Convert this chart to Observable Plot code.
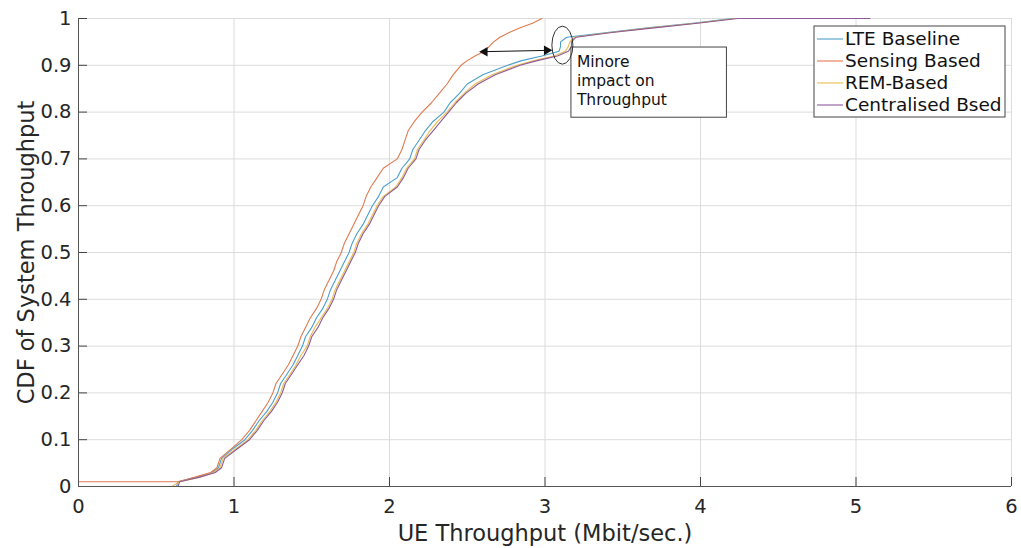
<!DOCTYPE html>
<html><head><meta charset="utf-8">
<script src="https://cdn.jsdelivr.net/npm/d3@7"></script>
<script src="https://cdn.jsdelivr.net/npm/@observablehq/plot@0.6"></script>
<style>html,body{margin:0;padding:0;background:#fff;} #chart{width:1021px;height:548px;}</style>
</head><body><div id="chart"></div>
<script>
const seriesNames = ["LTE Baseline", "Sensing Based", "REM-Based", "Centralised Bsed"];
const seriesColors = ["#4a9fcb", "#e07a4f", "#e9bc4e", "#8e5a9a"];

// Start point of each empirical CDF (x, y) before its first listed level
const seriesStartX = [0, 0, 0, 0];
const seriesStartY = [0, 0.01, 0, 0];

const cdfLevels = [0, 0.01, 0.02, 0.03, 0.04, 0.06, 0.08, 0.10, 0.12, 0.14, 0.16, 0.18, 0.20, 0.22, 0.24, 0.26, 0.28, 0.30,
  0.32, 0.34, 0.36, 0.38, 0.40, 0.42, 0.44, 0.46, 0.48, 0.50, 0.52, 0.54, 0.56, 0.58, 0.60, 0.62, 0.64, 0.66, 0.68, 0.70,
  0.72, 0.74, 0.76, 0.78, 0.80, 0.82, 0.84, 0.86, 0.88, 0.90, 0.91, 0.92, 0.93, 0.94, 0.95, 0.96, 0.97, 0.98, 0.99, 1.00];

const lteBaselineX = [0.63, 0.64, 0.76, 0.86, 0.90, 0.92, 0.99, 1.07, 1.12, 1.16, 1.21, 1.25, 1.28, 1.30, 1.34, 1.38, 1.41, 1.44,
  1.46, 1.50, 1.53, 1.57, 1.60, 1.62, 1.65, 1.68, 1.71, 1.74, 1.76, 1.79, 1.83, 1.86, 1.89, 1.93, 1.96, 2.05, 2.08, 2.13,
  2.15, 2.19, 2.23, 2.28, 2.35, 2.39, 2.45, 2.50, 2.60, 2.76, 2.85, 2.98, 3.09, 3.10, 3.10, 3.14, 3.40, 3.66, 3.95, 4.20];

const sensingBasedX = [null, 0.64, 0.75, 0.85, 0.89, 0.91, 0.98, 1.05, 1.10, 1.14, 1.18, 1.22, 1.25, 1.27, 1.31, 1.35, 1.38, 1.41,
  1.43, 1.46, 1.49, 1.53, 1.56, 1.58, 1.61, 1.64, 1.66, 1.69, 1.71, 1.74, 1.77, 1.80, 1.83, 1.85, 1.88, 1.92, 1.96, 2.05,
  2.08, 2.10, 2.12, 2.16, 2.21, 2.27, 2.32, 2.37, 2.41, 2.46, 2.50, 2.55, 2.61, 2.64, 2.67, 2.71, 2.77, 2.84, 2.92, 2.98];

const remBasedX = [0.60, 0.65, 0.78, 0.87, 0.91, 0.93, 1.01, 1.09, 1.14, 1.18, 1.23, 1.27, 1.30, 1.32, 1.36, 1.40, 1.43, 1.47,
  1.49, 1.52, 1.56, 1.60, 1.63, 1.65, 1.68, 1.71, 1.74, 1.77, 1.79, 1.82, 1.86, 1.89, 1.92, 1.96, 2.04, 2.08, 2.11, 2.16,
  2.18, 2.22, 2.26, 2.31, 2.37, 2.42, 2.48, 2.55, 2.66, 2.82, 2.93, 3.06, 3.13, 3.15, 3.16, 3.19, 3.42, 3.68, 3.97, 4.22];

const centralisedX = [0.64, 0.65, 0.78, 0.88, 0.92, 0.94, 1.02, 1.10, 1.15, 1.19, 1.24, 1.28, 1.31, 1.33, 1.37, 1.41, 1.45, 1.48,
  1.50, 1.54, 1.57, 1.61, 1.64, 1.66, 1.69, 1.72, 1.75, 1.78, 1.80, 1.83, 1.87, 1.90, 1.93, 1.97, 2.05, 2.09, 2.12, 2.17,
  2.19, 2.23, 2.28, 2.33, 2.38, 2.43, 2.49, 2.57, 2.68, 2.84, 2.95, 3.08, 3.15, 3.17, 3.17, 3.20, 3.43, 3.70, 3.98, 4.24];

const seriesMaxX = [5.00, 2.98, 5.05, 5.09];

const xTicks = [0, 1, 2, 3, 4, 5, 6];
const yTicks = [0, 0.1, 0.2, 0.3, 0.4, 0.5, 0.6, 0.7, 0.8, 0.9, 1];

const annotationText = "Minore\nimpact on\nThroughput";
const arrowFrom = [2.587, 0.929];
const arrowTo = [3.037, 0.932];
const ellipseCenter = [3.115, 0.942];
const noteBox = [3.17, 4.17, 0.788, 0.938];

const seriesX = [lteBaselineX, sensingBasedX, remBasedX, centralisedX];
const rows = [];
seriesNames.forEach((name, s) => {
  rows.push({series: name, x: seriesStartX[s], y: seriesStartY[s]});
  seriesX[s].forEach((x, i) => { if (x != null) rows.push({series: name, x, y: cdfLevels[i]}); });
  rows.push({series: name, x: seriesMaxX[s], y: 1});
});

const W = 1021, H = 548, mL = 78, mR = 10, mT = 18, mB = 62;

const plot = Plot.plot({
  width: W, height: H,
  marginLeft: mL, marginRight: mR, marginTop: mT, marginBottom: mB,
  style: {fontFamily: "DejaVu Sans", fontSize: "19.5px", color: "#262626", background: "white"},
  x: {domain: [0, 6]},
  y: {domain: [0, 1]},
  color: {domain: seriesNames, range: seriesColors},
  marks: [
    Plot.gridX(xTicks, {stroke: "#dcdcdc", strokeOpacity: 1}),
    Plot.gridY(yTicks, {stroke: "#dcdcdc", strokeOpacity: 1}),
    Plot.line(rows, {x: "x", y: "y", z: "series", stroke: "series", curve: "linear", strokeWidth: 1.1}),
    Plot.ruleX(xTicks, {x: d => d, y1: 0, y2: 9 / 468, stroke: "#444"}),
    Plot.ruleY(yTicks, {y: d => d, x1: 0, x2: 9 / 155.5, stroke: "#444"}),
    Plot.ruleX([0], {stroke: "#555"}),
    Plot.ruleY([0], {stroke: "#555"}),
    Plot.axisX({ticks: xTicks, tickSize: 0, tickPadding: 13, tickFormat: d => String(d), label: null, fill: "#262626"}),
    Plot.axisY({ticks: yTicks, tickSize: 0, tickPadding: 7, tickFormat: d => String(+d.toFixed(1)), label: null, fill: "#262626"}),
    Plot.text(["UE Throughput (Mbit/sec.)"], {frameAnchor: "bottom", lineAnchor: "middle", textAnchor: "middle", dy: 46.8, fontSize: 22.5, fill: "#262626"}),
    Plot.text(["CDF of System Throughput"], {frameAnchor: "left", lineAnchor: "middle", textAnchor: "middle", dx: -52, rotate: -90, fontSize: 22.5, fill: "#262626"}),
    Plot.rect([noteBox], {x1: d => d[0], x2: d => d[1], y1: d => d[2], y2: d => d[3], fill: "white", stroke: "#444", strokeWidth: 1}),
    Plot.text([annotationText], {x: 3.205, y: 0.925, textAnchor: "start", lineAnchor: "top", lineHeight: 1.23, fontSize: 15.5, fill: "#111"}),
    Plot.link([[arrowFrom, arrowTo]], {x1: d => d[0][0], y1: d => d[0][1], x2: d => d[1][0], y2: d => d[1][1], stroke: "#111", strokeWidth: 1}),
    Plot.dot([arrowFrom], {x: d => d[0], y: d => d[1], symbol: "triangle", r: 3.6, rotate: -90, fill: "#111", stroke: "none", dx: 4}),
    Plot.dot([arrowTo], {x: d => d[0], y: d => d[1], symbol: "triangle", r: 3.6, rotate: 90, fill: "#111", stroke: "none", dx: -4})
  ]
});

const svg = d3.select(plot);
const xs = plot.scale("x"), ys = plot.scale("y");
const sx = v => xs.apply(v), sy = v => ys.apply(v);

svg.append("ellipse")
  .attr("cx", sx(ellipseCenter[0])).attr("cy", sy(ellipseCenter[1]))
  .attr("rx", 10.5).attr("ry", 19)
  .attr("fill", "none").attr("stroke", "#333").attr("stroke-width", 1);

const lg = svg.append("g").attr("font-family", "DejaVu Sans").attr("font-size", 18.5).attr("text-anchor", "start");
lg.append("rect").attr("x", 814).attr("y", 26).attr("width", 191).attr("height", 91)
  .attr("fill", "white").attr("stroke", "#444").attr("stroke-width", 1);
seriesNames.forEach((name, i) => {
  const cy = 39 + i * 22;
  lg.append("line").attr("x1", 817).attr("x2", 843).attr("y1", cy).attr("y2", cy)
    .attr("stroke", seriesColors[i]).attr("stroke-width", 1.1);
  lg.append("text").attr("x", 845).attr("y", cy).attr("dy", "0.35em").attr("text-anchor", "start").attr("fill", "#111").text(name);
});

document.getElementById("chart").appendChild(plot);
</script>
</body></html>
